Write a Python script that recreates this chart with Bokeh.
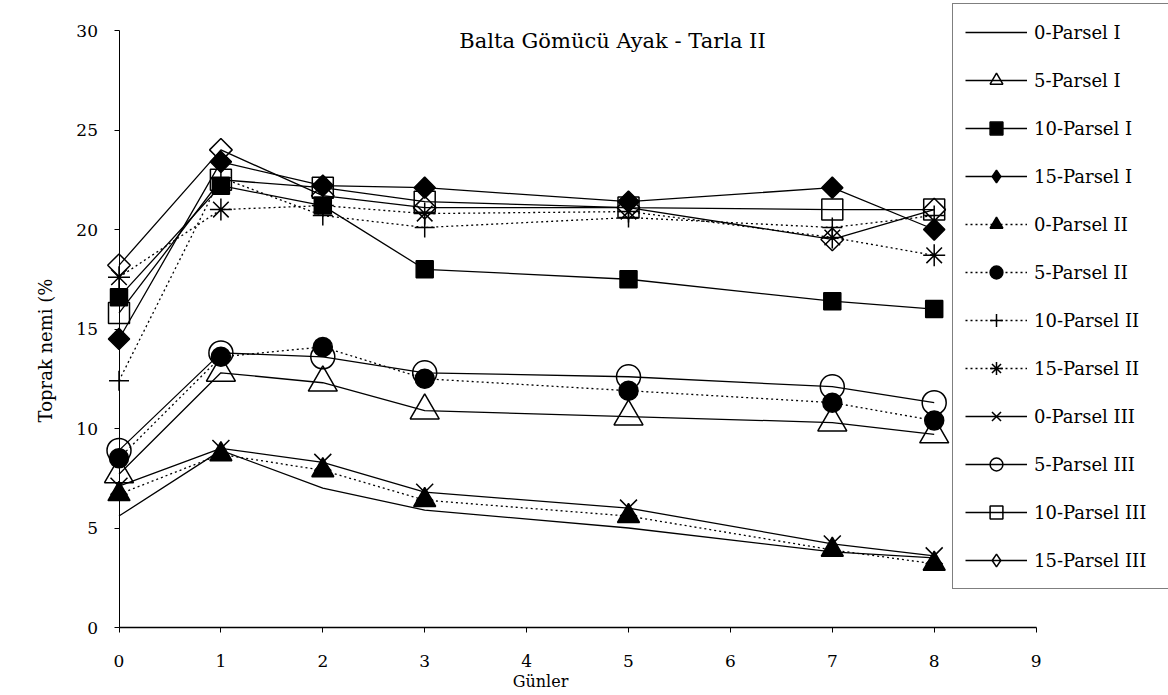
import numpy as np
from bokeh.plotting import figure
from bokeh.models import (Range1d, FixedTicker, Legend, LegendItem, Label,
                          ColumnDataSource)
from bokeh.embed import file_html
from bokeh.resources import INLINE

# ---------------- data ----------------
days = [0, 1, 2, 3, 5, 7, 8]

p0_I = [5.6, 8.9, 7.0, 5.9, 5.0, 3.8, 3.5]
p5_I = [7.7, 12.8, 12.3, 10.9, 10.6, 10.3, 9.7]
p10_I = [16.6, 22.2, 21.2, 18.0, 17.5, 16.4, 16.0]
p15_I = [14.5, 23.4, 22.2, 22.1, 21.4, 22.1, 20.0]
p0_II = [6.7, 8.7, 7.9, 6.4, 5.6, 3.9, 3.2]
p5_II = [8.5, 13.6, 14.1, 12.5, 11.9, 11.3, 10.4]
p10_II = [12.4, 22.6, 20.7, 20.1, 20.6, 20.1, 20.7]
p15_II = [17.6, 21.0, 21.2, 20.8, 20.9, 19.6, 18.7]
p0_III = [7.1, 9.0, 8.3, 6.8, 6.0, 4.2, 3.6]
p5_III = [8.9, 13.8, 13.6, 12.8, 12.6, 12.1, 11.3]
p10_III = [15.8, 22.5, 22.1, 21.4, 21.1, 21.0, 21.0]
p15_III = [18.2, 24.0, 21.7, 21.1, 21.1, 19.5, 21.0]

series_names = ["0-Parsel I", "5-Parsel I", "10-Parsel I", "15-Parsel I",
                "0-Parsel II", "5-Parsel II", "10-Parsel II", "15-Parsel II",
                "0-Parsel III", "5-Parsel III", "10-Parsel III", "15-Parsel III"]
series_values = [p0_I, p5_I, p10_I, p15_I, p0_II, p5_II, p10_II, p15_II,
                 p0_III, p5_III, p10_III, p15_III]

x_ticks = [0, 1, 2, 3, 4, 5, 6, 7, 8, 9]
y_ticks = [0, 5, 10, 15, 20, 25, 30]

title_text = "Balta Gömücü Ayak - Tarla II"
x_title = "Günler"
y_title = "Toprak nemi (%"

# ---------------- styles ----------------
SOLID = "solid"
DOT = "2 3"
# (dash, marker, size, filled, angle, legend_marker)
styles = [
    (SOLID, None, 0, False, 0, None),
    (SOLID, "triangle", 29, False, 0, None),
    (SOLID, "square", 17, True, 0, None),
    (SOLID, "square", 15, True, np.pi / 4, "diamond"),
    (DOT, "triangle", 22, True, 0, None),
    (DOT, "circle", 19, True, 0, None),
    (DOT, "cross", 20, False, 0, None),
    (DOT, "asterisk", 22, False, 0, None),
    (SOLID, "x", 24, False, 0, None),
    (SOLID, "circle", 24, False, 0, None),
    (SOLID, "square", 21, False, 0, None),
    (SOLID, "square", 16, False, np.pi / 4, "diamond"),
]

FONT = "DejaVu Serif"
W, H = 1168, 695
X0_PX, PX_X = 118.5, 101.9      # pixel of day 0, pixels per day
Y0_PX, PX_Y = 627.0, 19.9       # pixel (from top) of 0 %, pixels per %
x_start = -X0_PX / PX_X
y_start = -(H - Y0_PX) / PX_Y

p = figure(width=W, height=H,
           x_range=Range1d(x_start, x_start + W / PX_X),
           y_range=Range1d(y_start, y_start + H / PX_Y),
           output_backend="svg", toolbar_location=None,
           min_border=0, min_border_left=0, min_border_right=0,
           min_border_top=0, min_border_bottom=0,
           background_fill_color="white", border_fill_color="white",
           styles={"outline": "1px solid black", "outline-offset": "-8px"})
p.grid.visible = False
p.outline_line_color = None

# axes (fixed at the data origin)
p.xaxis.ticker = FixedTicker(ticks=x_ticks)
p.yaxis.ticker = FixedTicker(ticks=y_ticks)
p.xaxis.bounds = (0, 9)
p.yaxis.bounds = (0, 30)
p.xaxis.fixed_location = 0
p.yaxis.fixed_location = 0
for ax in (p.xaxis, p.yaxis):
    ax.axis_line_color = "black"
    ax.major_tick_line_color = "black"
    ax.major_tick_out = 5
    ax.major_tick_in = 0
    ax.minor_tick_line_color = None
    ax.major_label_text_font = FONT
    ax.major_label_text_font_size = "17px"
    ax.major_label_text_color = "black"
p.xaxis.axis_line_width = 1.5
p.yaxis.axis_line_width = 1
p.xaxis.major_label_standoff = 22
p.yaxis.major_label_standoff = 16

items = []
for name, vals, st in zip(series_names, series_values, styles):
    dash, marker, size, filled, angle, leg_marker = st
    src = ColumnDataSource(dict(x=days, y=vals))
    rl = p.line("x", "y", source=src, line_color="black", line_width=1.3,
                line_dash=dash)
    rends = [rl]
    if marker is not None:
        rs = p.scatter("x", "y", source=src, marker=marker, size=size,
                       angle=angle, line_color="black", line_width=1.5,
                       fill_color="black" if filled else None)
        if leg_marker is None:
            rends.append(rs)
        else:
            # legend-only proxy (not drawn in the plot) so the key shows a diamond
            proxy_src = ColumnDataSource(dict(x=[float("nan")], y=[float("nan")]))
            proxy = p.scatter("x", "y", source=proxy_src, marker=leg_marker,
                              size=size, line_color="black", line_width=1.5,
                              fill_color="black" if filled else None)
            rends.append(proxy)
    items.append(LegendItem(label=name, renderers=rends))

legend = Legend(items=items, location=(952, 106), orientation="vertical",
                label_text_font=FONT, label_text_font_size="18px",
                label_text_color="black",
                glyph_width=62, glyph_height=32, label_height=32,
                label_width=122, label_standoff=7, spacing=16, padding=12,
                margin=0, border_line_color="black", border_line_width=1,
                background_fill_color="white", background_fill_alpha=1.0)
p.add_layout(legend)

p.add_layout(Label(x=612, y=655, x_units="screen", y_units="screen",
                   text=title_text, text_font=FONT, text_font_size="21px",
                   text_align="center", text_baseline="middle",
                   text_color="black"))
p.add_layout(Label(x=540, y=14, x_units="screen", y_units="screen",
                   text=x_title, text_font=FONT, text_font_size="16px",
                   text_align="center", text_baseline="middle",
                   text_color="black"))
p.add_layout(Label(x=45, y=345, x_units="screen", y_units="screen",
                   text=y_title, text_font=FONT, text_font_size="18px",
                   text_align="center", text_baseline="middle", angle=np.pi / 2,
                   text_color="black"))

open("out.html", "w").write(file_html(p, INLINE))
